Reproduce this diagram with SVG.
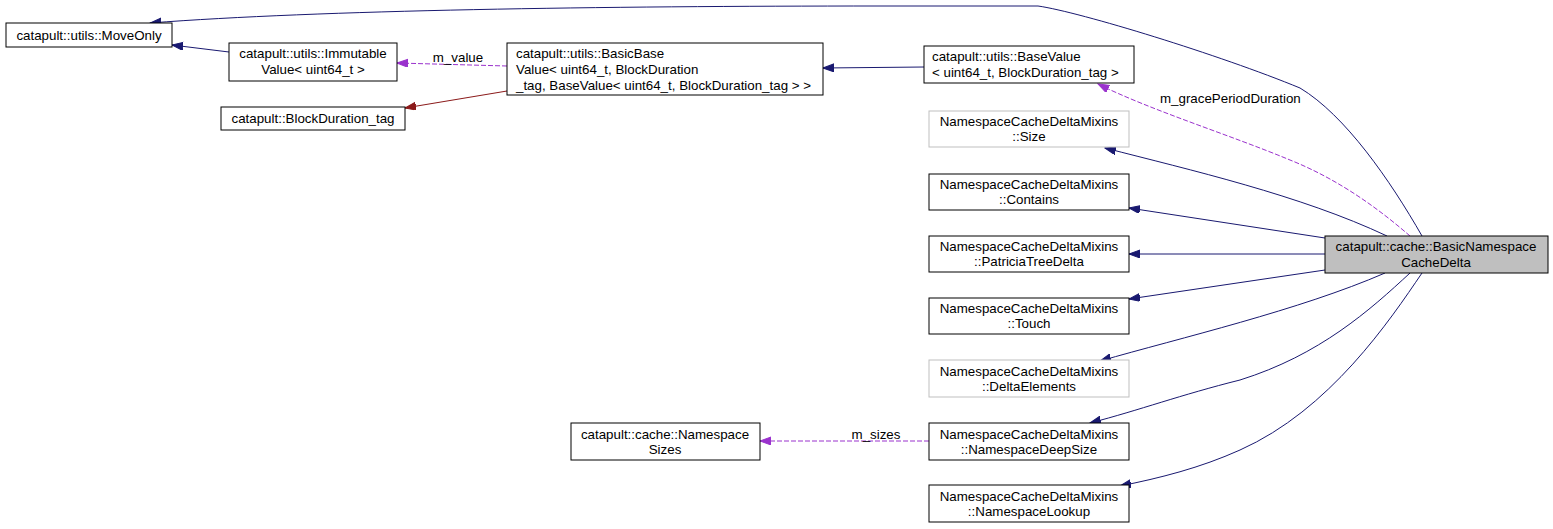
<svg xmlns="http://www.w3.org/2000/svg" width="1553" height="529" viewBox="0 0 1553 529">
<style>
.n rect{fill:#fff;stroke:#000;stroke-width:1}
.n.g rect{stroke:#bfbfbf}
.n.h rect{fill:#bfbfbf}
text{font-family:"Liberation Sans",Arial,sans-serif;font-size:13.33px;fill:#000}
.c{text-anchor:middle}
.e{fill:none;stroke:#191970;stroke-width:1}
.d{fill:none;stroke:#9a32cd;stroke-width:1;stroke-dasharray:5,2}
.r{fill:none;stroke:#8b1a1a;stroke-width:1}
</style>
<defs>
<marker id="ab" markerWidth="12" markerHeight="10" refX="11" refY="4" orient="auto" markerUnits="userSpaceOnUse"><path d="M0,0 L11,4 L0,8 Z" fill="#191970" stroke="#191970"/></marker>
<marker id="ap" markerWidth="12" markerHeight="10" refX="11" refY="4" orient="auto" markerUnits="userSpaceOnUse"><path d="M0,0 L11,4 L0,8 Z" fill="#9a32cd" stroke="#9a32cd"/></marker>
<marker id="ar" markerWidth="12" markerHeight="10" refX="11" refY="4" orient="auto" markerUnits="userSpaceOnUse"><path d="M0,0 L11,4 L0,8 Z" fill="#8b1a1a" stroke="#8b1a1a"/></marker>
</defs>
<rect width="1553" height="529" fill="#fff"/>
<g id="edges">
<path class="e" marker-end="url(#ab)" d="M1422,236 C1390,180 1345,115 1300,88 C1220,55 1080,12 1038,6 L880,6 C600,6 320,10 150,23"/>
<path class="e" marker-end="url(#ab)" d="M229,52 L172,45"/>
<path class="e" marker-end="url(#ab)" d="M924,67 L823,68"/>
<path class="r" marker-end="url(#ar)" d="M507,91 L405,108"/>
<path class="d" marker-end="url(#ap)" d="M507,66 L397,63"/>
<text x="458" y="62" class="c">m_value</text>
<path class="d" marker-end="url(#ap)" d="M1410,236 C1380,210 1340,180 1290,160 C1230,135 1150,110 1098,84"/>
<text x="1160" y="103">m_gracePeriodDuration</text>
<path class="e" marker-end="url(#ab)" d="M1387,236 C1300,195 1190,170 1105,148"/>
<path class="e" marker-end="url(#ab)" d="M1325,238 L1129,208"/>
<path class="e" marker-end="url(#ab)" d="M1325,254 L1129,254"/>
<path class="e" marker-end="url(#ab)" d="M1325,270 L1129,299"/>
<path class="e" marker-end="url(#ab)" d="M1385,273 C1300,310 1180,338 1100,361"/>
<path class="e" marker-end="url(#ab)" d="M1410,273 C1370,310 1320,355 1240,380 C1180,395 1140,410 1090,423"/>
<path class="e" marker-end="url(#ab)" d="M1422,273 C1390,320 1330,410 1240,450 C1200,468 1160,478 1120,486"/>
<path class="d" marker-end="url(#ap)" d="M929,441 L760,441"/>
<text x="876" y="439" class="c">m_sizes</text>
</g>
<g id="n_moveonly" class="n"><rect x="6" y="23" width="166" height="24"/><text x="89" y="40" class="c">catapult::utils::MoveOnly</text></g>
<g id="n_immutable" class="n"><rect x="229" y="43" width="168" height="38"/><text x="313" y="58" class="c">catapult::utils::Immutable</text><text x="313" y="74" class="c">Value&lt; uint64_t &gt;</text></g>
<g id="n_blocktag" class="n"><rect x="221" y="107" width="184" height="23"/><text x="313" y="123" class="c">catapult::BlockDuration_tag</text></g>
<g id="n_basicbase" class="n"><rect x="507" y="43" width="316" height="52"/><text x="516" y="58">catapult::utils::BasicBase</text><text x="516" y="74">Value&lt; uint64_t, BlockDuration</text><text x="516" y="90">_tag, BaseValue&lt; uint64_t, BlockDuration_tag &gt; &gt;</text></g>
<g id="n_basevalue" class="n"><rect x="924" y="46" width="210" height="37"/><text x="932" y="61">catapult::utils::BaseValue</text><text x="932" y="77">&lt; uint64_t, BlockDuration_tag &gt;</text></g>
<g id="n_size" class="n g"><rect x="929" y="111" width="200" height="36"/><text x="1029" y="126" class="c">NamespaceCacheDeltaMixins</text><text x="1029" y="141" class="c">::Size</text></g>
<g id="n_contains" class="n"><rect x="929" y="174" width="200" height="36"/><text x="1029" y="189" class="c">NamespaceCacheDeltaMixins</text><text x="1029" y="204" class="c">::Contains</text></g>
<g id="n_patricia" class="n"><rect x="929" y="236" width="200" height="36"/><text x="1029" y="251" class="c">NamespaceCacheDeltaMixins</text><text x="1029" y="266" class="c">::PatriciaTreeDelta</text></g>
<g id="n_touch" class="n"><rect x="929" y="298" width="200" height="36"/><text x="1029" y="313" class="c">NamespaceCacheDeltaMixins</text><text x="1029" y="328" class="c">::Touch</text></g>
<g id="n_delta" class="n g"><rect x="929" y="360" width="200" height="37"/><text x="1029" y="376" class="c">NamespaceCacheDeltaMixins</text><text x="1029" y="391" class="c">::DeltaElements</text></g>
<g id="n_deepsize" class="n"><rect x="929" y="423" width="200" height="37"/><text x="1029" y="439" class="c">NamespaceCacheDeltaMixins</text><text x="1029" y="454" class="c">::NamespaceDeepSize</text></g>
<g id="n_lookup" class="n"><rect x="929" y="485" width="200" height="37"/><text x="1029" y="501" class="c">NamespaceCacheDeltaMixins</text><text x="1029" y="516" class="c">::NamespaceLookup</text></g>
<g id="n_sizes" class="n"><rect x="571" y="423" width="189" height="37"/><text x="665" y="439" class="c">catapult::cache::Namespace</text><text x="665" y="454" class="c">Sizes</text></g>
<g id="n_main" class="n h"><rect x="1325" y="236" width="223" height="37"/><text x="1436" y="251" class="c">catapult::cache::BasicNamespace</text><text x="1436" y="267" class="c">CacheDelta</text></g>
</svg>
